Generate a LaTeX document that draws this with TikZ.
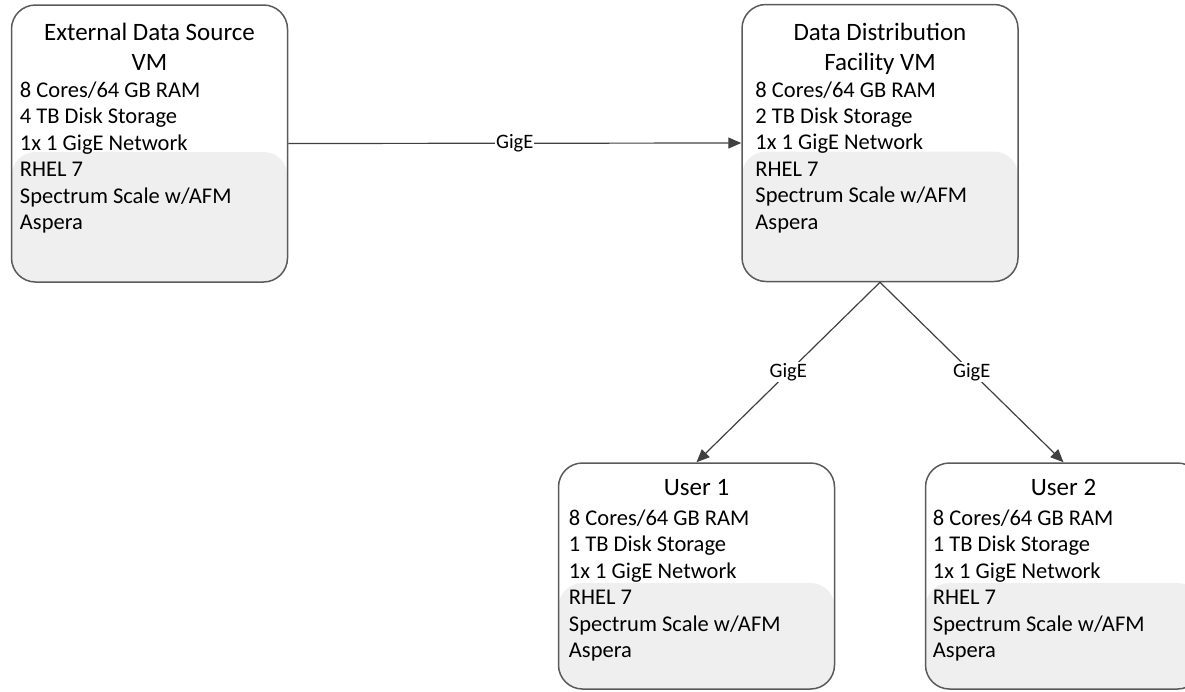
\documentclass[tikz,border=0pt]{standalone}
\usepackage{fontspec}
\setmainfont{Carlito}
\usetikzlibrary{arrows.meta,positioning}
\definecolor{boxline}{RGB}{90,90,90}
\definecolor{band}{RGB}{239,239,239}
\definecolor{wire}{RGB}{64,64,64}
\tikzset{
  >={Triangle[length=13pt,width=11pt]},
  vm/.style 2 args={draw=boxline, line width=1.5pt, rounded corners=24pt, fill=white,
    minimum width=276pt, minimum height=#1, inner sep=0pt,
    path picture={\fill[band] ([yshift=-#2]path picture bounding box.north west)
      rectangle (path picture bounding box.south east);}},
  ttl/.style ={inner sep=0pt, align=center, font=\fontsize{25}{30}\selectfont},
  spec/.style={inner sep=0pt, align=left, font=\fontsize{22.5}{26.4}\selectfont},
  link/.style={->, draw=wire, line width=1.2pt},
  lbl/.style ={fill=white, inner sep=1pt, font=\fontsize{20.5}{22}\selectfont}
}

\begin{document}
\begin{tikzpicture}[x=1pt,y=-1pt]
\path[use as bounding box] (0,0) rectangle (1185,691);
\clip (0,0) rectangle (1185,691);

\node[vm={277pt}{147pt}] (ext)   at (149.5,143.5) {};
\node[vm={277pt}{147pt}] (ddf)   at (880,143) {};
\node[vm={226pt}{120pt}] (user1) at (696.5,576) {};
\node[vm={226pt}{120pt}] (user2) at (1063.5,576) {};

\node[ttl, below=19pt of ext.north]  (extT)   {External Data Source\\VM};
\node[ttl, below=19pt of ddf.north]  (ddfT)   {Data Distribution\\Facility VM};
\node[ttl, below=17pt of user1.north] (user1T) {User 1};
\node[ttl, below=17pt of user2.north] (user2T) {User 2};

\node[spec, below right=77.5pt and 9pt of ext.north west] (extS)
  {8 Cores/64 GB RAM\\4 TB Disk Storage\\1x 1 GigE Network\\RHEL 7\\Spectrum Scale w/AFM\\Aspera};
\node[spec, below right=77.5pt and 14pt of ddf.north west] (ddfS)
  {8 Cores/64 GB RAM\\2 TB Disk Storage\\1x 1 GigE Network\\RHEL 7\\Spectrum Scale w/AFM\\Aspera};
\node[spec, below right=47.5pt and 11pt of user1.north west] (user1S)
  {8 Cores/64 GB RAM\\1 TB Disk Storage\\1x 1 GigE Network\\RHEL 7\\Spectrum Scale w/AFM\\Aspera};
\node[spec, below right=47.5pt and 8pt of user2.north west] (user2S)
  {8 Cores/64 GB RAM\\1 TB Disk Storage\\1x 1 GigE Network\\RHEL 7\\Spectrum Scale w/AFM\\Aspera};

\draw[link] (ext.east) -- node[lbl]{GigE} (ddf.west);
\draw[link] (ddf.south) -- node[lbl]{GigE} (user1.north);
\draw[link] (ddf.south) -- node[lbl]{GigE} (user2.north);
\end{tikzpicture}
\end{document}
